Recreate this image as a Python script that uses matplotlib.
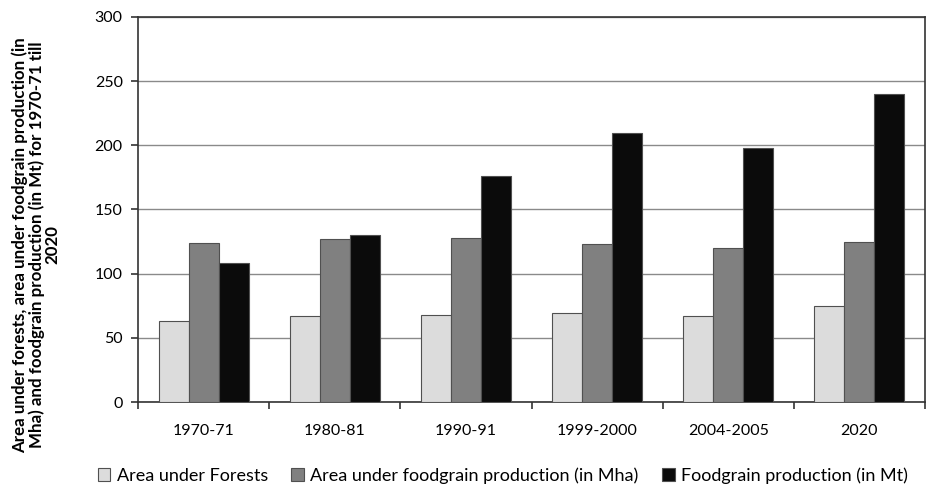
import matplotlib
matplotlib.use("Agg")
import matplotlib.pyplot as plt
import numpy as np

plt.rcParams['font.family'] = ['Lato', 'DejaVu Sans']

years = ["1970-71", "1980-81", "1990-91", "1999-2000", "2004-2005", "2020"]
forests = [63, 67, 68, 69, 67, 75]
area_foodgrain = [124, 127, 128, 123, 120, 125]
foodgrain_prod = [108, 130, 176, 210, 198, 240]

series_names = ["Area under Forests",
                "Area under foodgrain production (in Mha)",
                "Foodgrain production (in Mt)"]
colors = ["#dcdcdc", "#808080", "#0b0b0b"]

fig = plt.figure(figsize=(9.4, 4.95), dpi=100)
ax = fig.add_axes([138/940, 1 - 402/495, 787/940, 385/495])

x = np.arange(len(years))
w = 0.229
for i, (vals, name, c) in enumerate(zip([forests, area_foodgrain, foodgrain_prod], series_names, colors)):
    ax.bar(x + (i - 1) * w, vals, width=w, color=c, edgecolor="#505050",
           linewidth=0.8, label=name, zorder=3)

ax.set_xlim(-0.5, len(years) - 0.5)
ax.set_ylim(0, 300)
ax.set_yticks(np.arange(0, 301, 50))
ax.yaxis.grid(True, color="#8a8a8a", linewidth=1.0, zorder=0)

ax.set_xticks(x)
ax.set_xticklabels(years, fontsize=11.5)
ax.tick_params(axis='x', length=0, pad=16)
ax.set_xticks(np.arange(-0.5, len(years)), minor=True)
ax.tick_params(axis='x', which='minor', length=5, width=1.2, color="#333333")
ax.tick_params(axis='y', labelsize=11.5, length=5, width=1.2, color="#333333", pad=6)

for s in ax.spines.values():
    s.set_color("#333333")
    s.set_linewidth(1.2)

# y label sits a bit lower than the axes centre in the original
fig.text(36/940, 1 - 245/495,
         "Area under forests, area under foodgrain production (in\n"
         "Mha) and foodgrain production (in Mt) for 1970-71 till\n2020",
         rotation=90, ha='center', va='center', multialignment='center',
         fontsize=12.2, fontweight='bold', linespacing=1.0)

leg = fig.legend(loc='lower center', bbox_to_anchor=(0.535, -0.01), ncol=3,
                 frameon=False, fontsize=13, handlelength=0.7, handleheight=0.7,
                 handletextpad=0.35, columnspacing=1.3)

fig.savefig("out.png", dpi=100)
